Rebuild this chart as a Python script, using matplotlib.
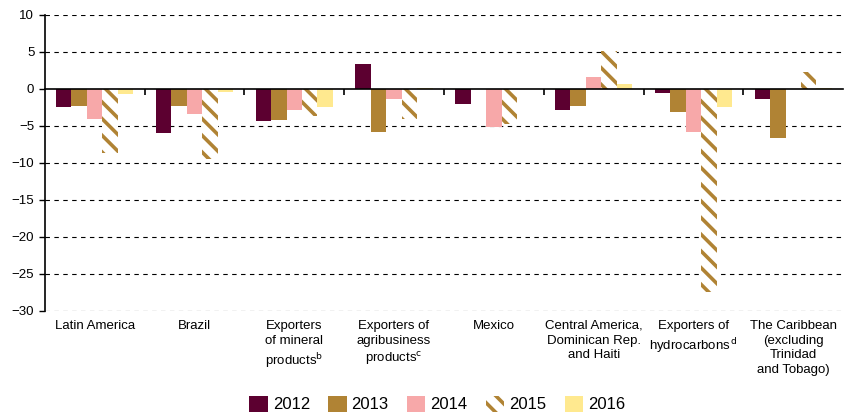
import numpy as np
import matplotlib
matplotlib.use('Agg')
import matplotlib.pyplot as plt
from matplotlib.patches import Patch

plt.rcParams['font.family'] = ['Liberation Sans Narrow', 'Liberation Sans', 'DejaVu Sans']
plt.rcParams['hatch.linewidth'] = 2.6
plt.rcParams['hatch.color'] = '#b08334'

# --- data ---
categories = [
    'Latin America',
    'Brazil',
    'Exporters\nof mineral\nproducts$^{\\mathrm{b}}$',
    'Exporters of\nagribusiness\nproducts$^{\\mathrm{c}}$',
    'Mexico',
    'Central America,\nDominican Rep.\nand Haiti',
    'Exporters of\nhydrocarbons$^{\\,\\mathrm{d}}$',
    'The Caribbean\n(excluding\nTrinidad\nand Tobago)',
]
years = ['2012', '2013', '2014', '2015', '2016']
v2012 = [-2.5, -5.9, -4.3, 3.4, -2.0, -2.9, -0.6, -1.3]
v2013 = [-2.3, -2.3, -4.2, -5.8, 0.0, -2.3, -3.1, -6.7]
v2014 = [-4.0, -3.4, -2.9, -1.3, -5.1, 1.6, -5.8, 0.0]
v2015 = [-8.6, -9.5, -3.7, -4.1, -4.8, 5.1, -27.4, 2.3]
v2016 = [-0.65, -0.4, -2.5, 0.1, 0.0, 0.7, -2.5, 0.1]
series = [v2012, v2013, v2014, v2015, v2016]
colors = ['#5c0030', '#b08334', '#f7a8a9', 'white', '#ffe98f']
yticks = [10, 5, 0, -5, -10, -15, -20, -25, -30]

fig = plt.figure(figsize=(8.44, 4.13), dpi=100)
ax = fig.add_axes([0.053, 0.247, 0.946, 0.717])

x = np.arange(len(categories))
width = 0.155
for i, (vals, col) in enumerate(zip(series, colors)):
    pos = x + (i - 2) * width
    if years[i] == '2015':
        ax.bar(pos, vals, width, facecolor='white', edgecolor='#b08334',
               hatch='\\\\', linewidth=0, zorder=3)
    else:
        ax.bar(pos, vals, width, color=col, linewidth=0, zorder=3)

# grid lines
for yv in yticks:
    if yv != 0:
        ax.axhline(yv, color='black', lw=0.8, ls=(0, (4, 4)), zorder=1)

ax.set_xlim(-0.5, len(categories) - 0.5)
ax.set_ylim(-30, 10)
ax.set_yticks(yticks)
ax.tick_params(axis='y', labelsize=9.5, length=4, width=1, direction='out')

for s in ['top', 'right']:
    ax.spines[s].set_visible(False)
ax.spines['left'].set_linewidth(1.2)
ax.spines['bottom'].set_position(('data', 0))
ax.spines['bottom'].set_linewidth(1.2)
ax.spines['bottom'].set_zorder(4)
ax.set_xticks(x[:-1] + 0.5)
ax.set_xticklabels([])
ax.tick_params(axis='x', length=4, width=1.2, direction='out')

trans = ax.get_xaxis_transform()
for xi, lab in zip(x, categories):
    ax.text(xi, -0.03, lab, transform=trans, ha='center', va='top',
            fontsize=9.5, linespacing=1.3)

handles = [Patch(facecolor=c, edgecolor='none') for c in colors]
handles[3] = Patch(facecolor='white', edgecolor='#b08334', hatch='\\\\', linewidth=0)
fig.legend(handles, years, loc='lower center', ncol=5, frameon=False,
           fontsize=12, handlelength=1.1, handleheight=1.1, handletextpad=0.3,
           columnspacing=1.1, bbox_to_anchor=(0.518, -0.035))

fig.savefig('out.png', dpi=100)
